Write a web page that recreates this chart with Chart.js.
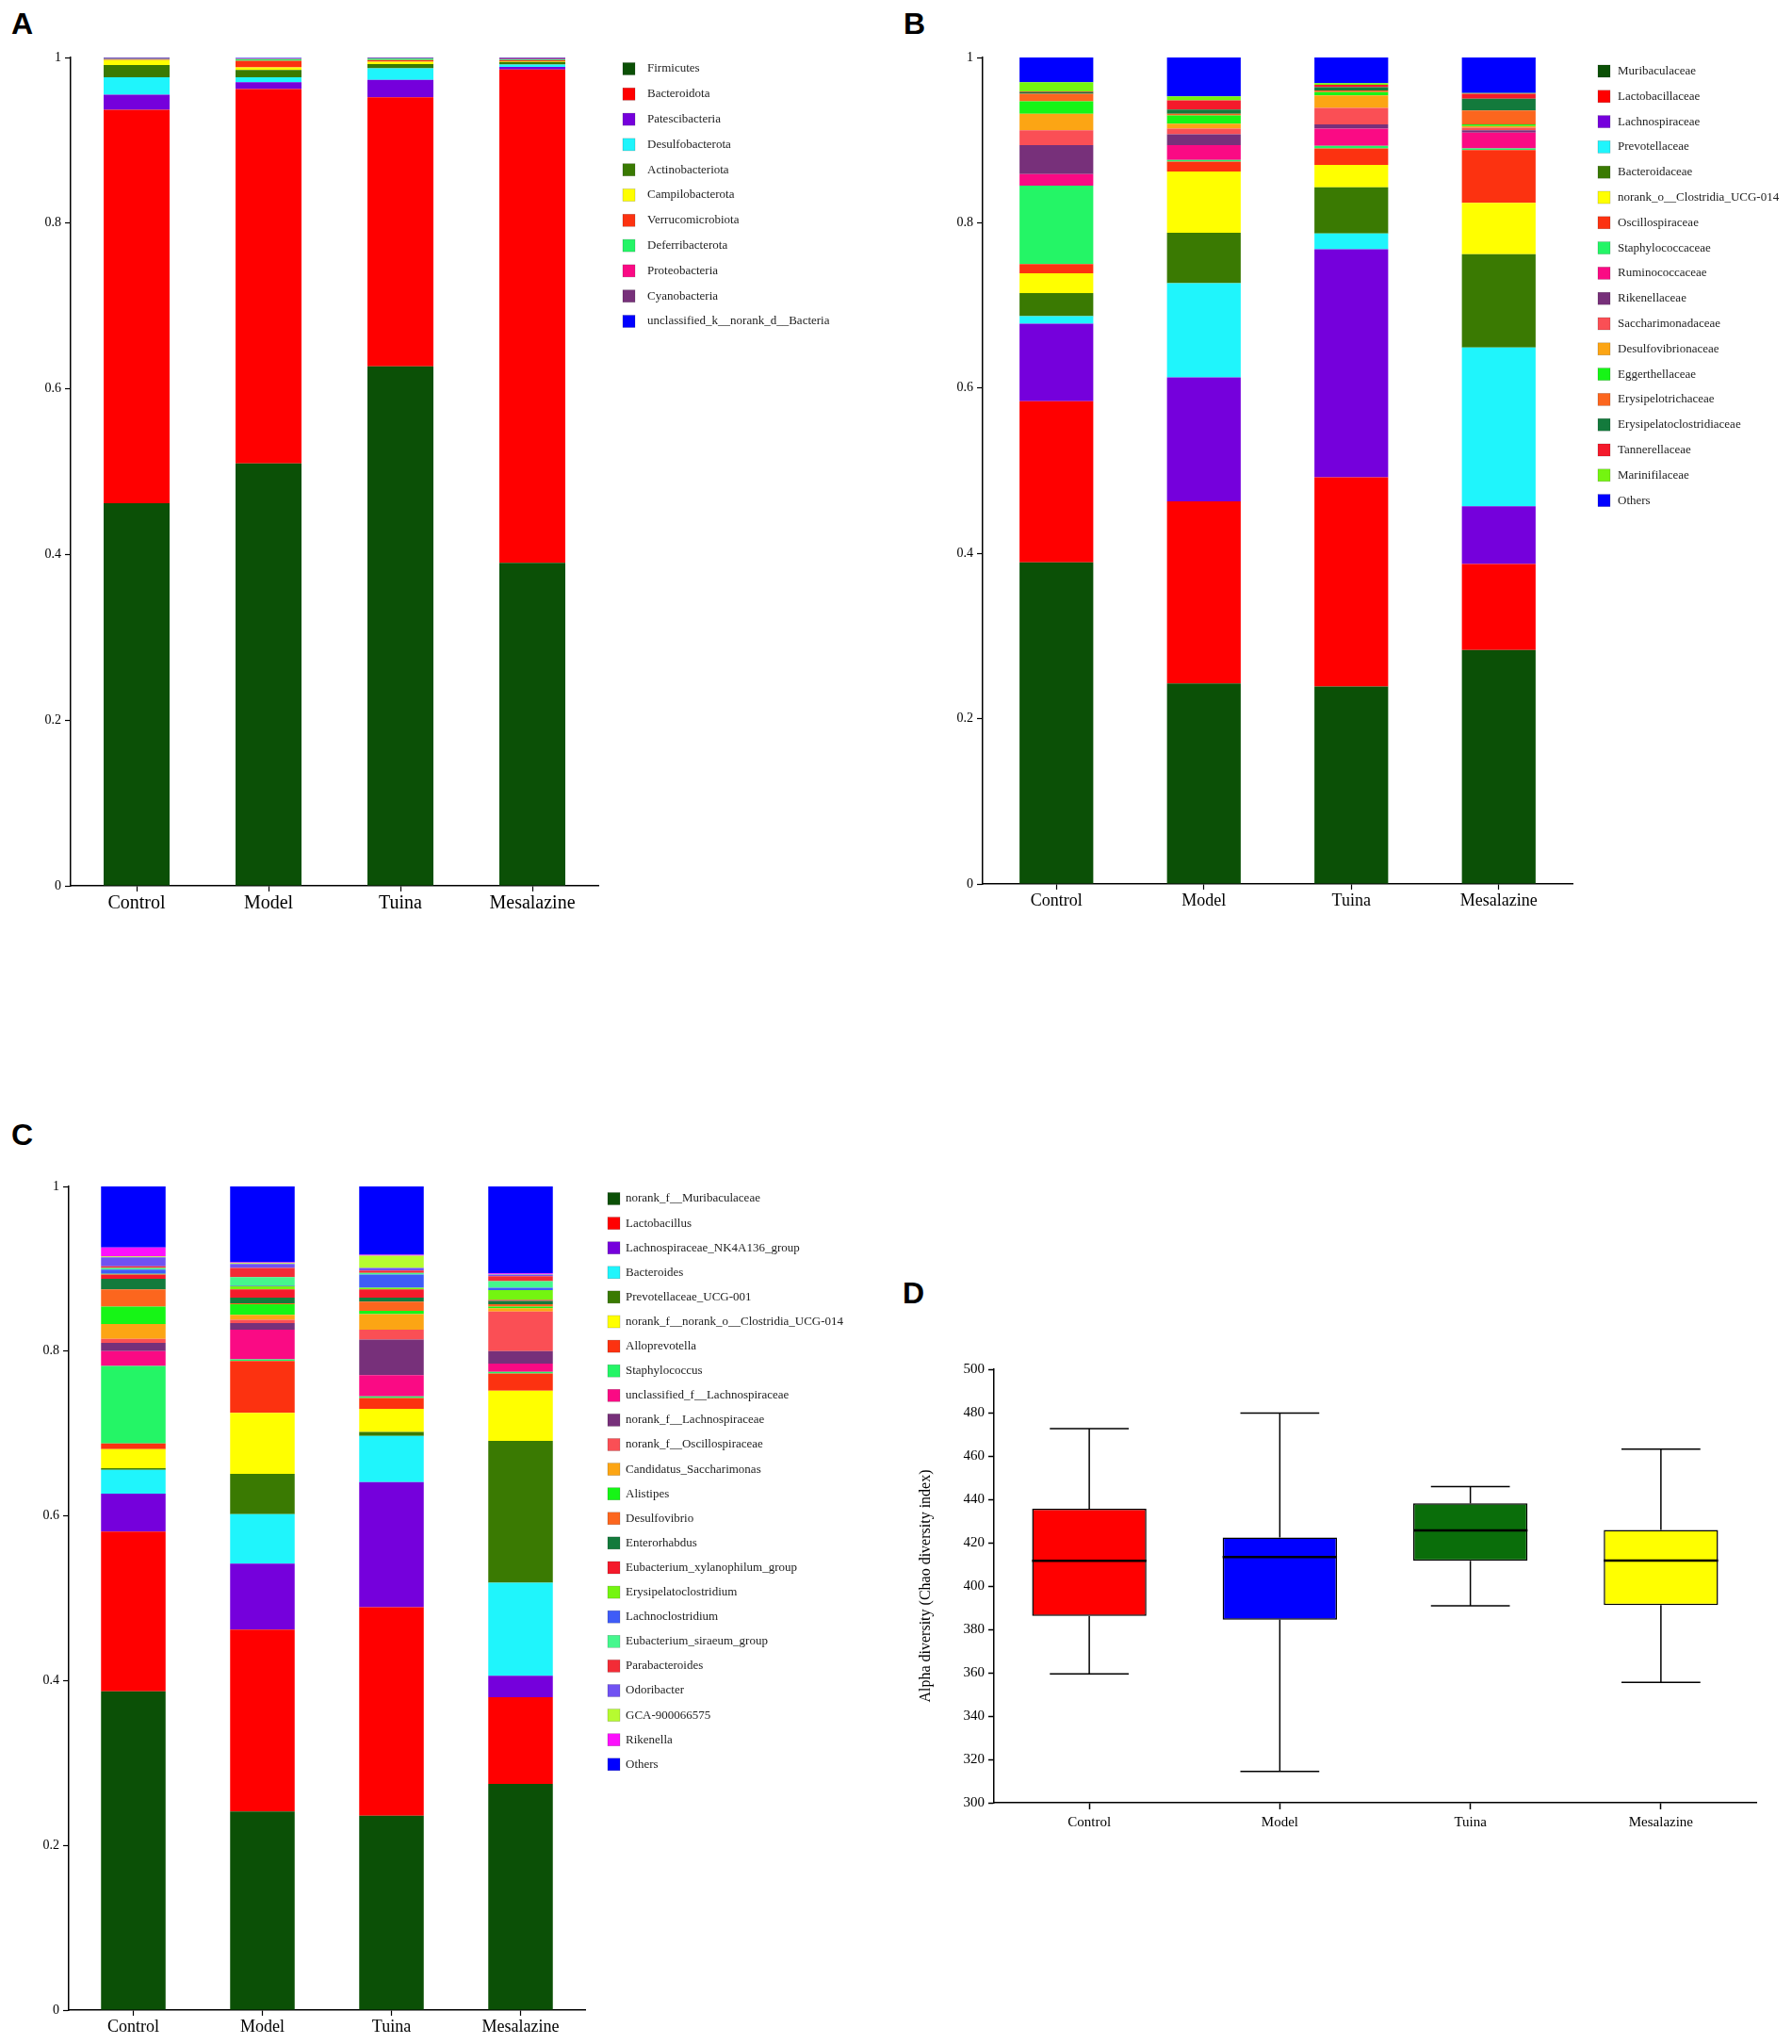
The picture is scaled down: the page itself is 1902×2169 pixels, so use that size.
<!DOCTYPE html>
<html>
<head>
<meta charset="utf-8">
<script src="https://cdn.jsdelivr.net/npm/chart.js@4.4.1/dist/chart.umd.min.js"></script>
<style>
  html, body { margin: 0; padding: 0; background: #fff; }
  body { width: 1902px; height: 2169px; position: relative; overflow: hidden; }
  canvas { position: absolute; }
  .tag { position: absolute; font: bold 32px "Liberation Sans", Arial, sans-serif; line-height: 1; color: #000; }
</style>
</head>
<body>
<div class="tag" style="left:12px;top:9px">A</div>
<div class="tag" style="left:959px;top:9px">B</div>
<div class="tag" style="left:12px;top:1188px">C</div>
<div class="tag" style="left:958px;top:1356px">D</div>

<canvas id="chartA" width="950" height="1000" style="left:0;top:0"></canvas>
<canvas id="chartB" width="952" height="1000" style="left:950px;top:0"></canvas>
<canvas id="chartC" width="950" height="989" style="left:0;top:1180px"></canvas>
<canvas id="chartD" width="962" height="620" style="left:940px;top:1330px"></canvas>

<script>
// groups shared by all four panels
const groups = ['Control', 'Model', 'Tuina', 'Mesalazine'];
const fracTicks = ['0', '0.2', '0.4', '0.6', '0.8', '1'];
const chaoTicks = ['300', '320', '340', '360', '380', '400', '420', '440', '460', '480', '500'];

// colour order used by the community plots
const taxonColors = [
  '#0b5006', '#ff0000', '#7500dc', '#1ff5fc', '#3a7a02', '#ffff00', '#fc3210', '#24f566',
  '#fa0a84', '#77307a', '#fa4f55', '#fca514', '#16f516', '#fc661e', '#137a3c', '#f41a2b',
  '#74f510', '#3f5cf7', '#45f78d', '#f22c36', '#7052f2', '#b6fb30', '#fc10fc'
];
const othersColor = '#0000ff';

// A: phylum level (rows = taxa, columns = groups)
const phylumNames = [
  'Firmicutes', 'Bacteroidota', 'Patescibacteria', 'Desulfobacterota', 'Actinobacteriota',
  'Campilobacterota', 'Verrucomicrobiota', 'Deferribacterota', 'Proteobacteria', 'Cyanobacteria',
  'unclassified_k__norank_d__Bacteria'
];
const phylumValues = [
  [0.462, 0.510, 0.627, 0.390],
  [0.475, 0.452, 0.325, 0.5955],
  [0.018, 0.008, 0.021, 0.003],
  [0.021, 0.006, 0.014, 0.003],
  [0.015, 0.009, 0.005, 0.003],
  [0.006, 0.003, 0.003, 0.001],
  [0.0005, 0.008, 0.002, 0.001],
  [0.0005, 0.002, 0.0015, 0.001],
  [0.0003, 0.0005, 0.0005, 0.0005],
  [0.001, 0.0005, 0.0005, 0.0015],
  [0.0007, 0.0005, 0.0005, 0.0005]
];

// B: family level
const familyNames = [
  'Muribaculaceae', 'Lactobacillaceae', 'Lachnospiraceae', 'Prevotellaceae', 'Bacteroidaceae',
  'norank_o__Clostridia_UCG-014', 'Oscillospiraceae', 'Staphylococcaceae', 'Ruminococcaceae',
  'Rikenellaceae', 'Saccharimonadaceae', 'Desulfovibrionaceae', 'Eggerthellaceae',
  'Erysipelotrichaceae', 'Erysipelatoclostridiaceae', 'Tannerellaceae', 'Marinifilaceae', 'Others'
];
const familyValues = [
  [0.389, 0.2425, 0.239, 0.283],
  [0.195, 0.2205, 0.253, 0.104],
  [0.094, 0.150, 0.276, 0.070],
  [0.009, 0.114, 0.019, 0.192],
  [0.028, 0.061, 0.056, 0.113],
  [0.024, 0.074, 0.027, 0.062],
  [0.011, 0.012, 0.020, 0.064],
  [0.095, 0.002, 0.003, 0.002],
  [0.014, 0.018, 0.021, 0.019],
  [0.035, 0.013, 0.005, 0.003],
  [0.018, 0.007, 0.020, 0.003],
  [0.020, 0.006, 0.015, 0.002],
  [0.015, 0.010, 0.004, 0.002],
  [0.009, 0.002, 0.002, 0.017],
  [0.002, 0.005, 0.004, 0.014],
  [0.001, 0.011, 0.003, 0.006],
  [0.011, 0.005, 0.002, 0.001],
  [0.030, 0.047, 0.031, 0.043]
];

// C: genus level
const genusNames = [
  'norank_f__Muribaculaceae', 'Lactobacillus', 'Lachnospiraceae_NK4A136_group', 'Bacteroides',
  'Prevotellaceae_UCG-001', 'norank_f__norank_o__Clostridia_UCG-014', 'Alloprevotella',
  'Staphylococcus', 'unclassified_f__Lachnospiraceae', 'norank_f__Lachnospiraceae',
  'norank_f__Oscillospiraceae', 'Candidatus_Saccharimonas', 'Alistipes', 'Desulfovibrio',
  'Enterorhabdus', 'Eubacterium_xylanophilum_group', 'Erysipelatoclostridium', 'Lachnoclostridium',
  'Eubacterium_siraeum_group', 'Parabacteroides', 'Odoribacter', 'GCA-900066575', 'Rikenella', 'Others'
];
const genusValues = [
  [0.387, 0.241, 0.236, 0.2745],
  [0.194, 0.221, 0.253, 0.1055],
  [0.046, 0.080, 0.152, 0.026],
  [0.029, 0.060, 0.056, 0.113],
  [0.002, 0.049, 0.005, 0.172],
  [0.023, 0.074, 0.028, 0.061],
  [0.007, 0.063, 0.013, 0.021],
  [0.094, 0.002, 0.002, 0.002],
  [0.018, 0.036, 0.026, 0.010],
  [0.010, 0.008, 0.043, 0.015],
  [0.005, 0.004, 0.012, 0.048],
  [0.018, 0.006, 0.019, 0.004],
  [0.021, 0.013, 0.004, 0.002],
  [0.021, 0.001, 0.011, 0.003],
  [0.013, 0.007, 0.005, 0.004],
  [0.005, 0.010, 0.010, 0.001],
  [0.001, 0.004, 0.002, 0.012],
  [0.005, 0.001, 0.016, 0.003],
  [0.002, 0.010, 0.002, 0.008],
  [0.002, 0.011, 0.003, 0.006],
  [0.011, 0.005, 0.003, 0.002],
  [0.001, 0.001, 0.015, 0.0005],
  [0.011, 0.001, 0.001, 0.001],
  [0.074, 0.092, 0.083, 0.1055]
];

// D: Chao index box plot
const chaoMax = [472.6, 479.8, 445.9, 463.1];
const chaoQ3 = [435.7, 422.4, 438.1, 425.9];
const chaoMedian = [411.6, 413.4, 425.7, 411.7];
const chaoQ1 = [386.2, 384.5, 411.6, 391.2];
const chaoMin = [359.5, 314.5, 390.9, 355.5];
const boxColors = ['#ff0000', '#0000ff', '#0a6e0a', '#ffff00'];

const serif = '"Liberation Serif", "Times New Roman", serif';

// legend column drawn beside the plot, one row per dataset
const sideLegend = {
  id: 'sideLegend',
  afterDraw(chart, args, opts) {
    if (!opts || !opts.show) return;
    const { ctx, chartArea } = chart;
    ctx.save();
    ctx.font = '13px ' + serif;
    ctx.textBaseline = 'middle';
    chart.data.datasets.forEach((ds, i) => {
      const x = chartArea.right + opts.left;
      const y = chartArea.top + opts.top + i * opts.step;
      ctx.fillStyle = ds.backgroundColor;
      ctx.fillRect(x, y - 6.5, 13, 13);
      ctx.strokeStyle = 'rgba(0,0,0,0.25)';
      ctx.lineWidth = 0.6;
      ctx.strokeRect(x, y - 6.5, 13, 13);
      ctx.fillStyle = '#222';
      ctx.fillText(ds.label, x + opts.gap, y);
    });
    ctx.restore();
  }
};

function axisGrid() {
  return { display: true, drawOnChartArea: false, offset: false, color: '#000', tickLength: 6, tickWidth: 1.2 };
}

function stackedChart(id, names, rows, pad, legendOpts, labelSize, xHeight) {
  const datasets = names.map((name, i) => ({
    label: name,
    data: rows[i],
    backgroundColor: name === 'Others' || name.startsWith('unclassified_k') ? othersColor : taxonColors[i],
    borderWidth: 0,
    barPercentage: 0.5,
    categoryPercentage: 1
  }));
  return new Chart(document.getElementById(id), {
    type: 'bar',
    data: { labels: groups, datasets },
    options: {
      responsive: false,
      animation: false,
      devicePixelRatio: 1,
      layout: { padding: pad },
      plugins: { legend: { display: false }, tooltip: { enabled: false }, sideLegend: legendOpts },
      scales: {
        x: {
          stacked: true,
          grid: axisGrid(),
          border: { color: '#000', width: 1.5 },
          ticks: { color: '#000', font: { family: serif, size: labelSize }, padding: 1, maxRotation: 0 },
          afterFit: s => { s.height = xHeight; }
        },
        y: {
          stacked: true,
          min: 0,
          max: 1,
          grid: axisGrid(),
          border: { color: '#000', width: 1.5 },
          ticks: { stepSize: 0.2, color: '#000', font: { family: serif, size: 14 }, padding: 4,
                   callback: (v, i) => fracTicks[i] },
          afterFit: s => { s.width = 40; }
        }
      }
    },
    plugins: [sideLegend]
  });
}

stackedChart('chartA', phylumNames, phylumValues,
  { left: 35, top: 61, right: 315, bottom: 20 },
  { show: true, left: 26, top: 12, step: 26.8, gap: 26 }, 20, 40);

stackedChart('chartB', familyNames, familyValues,
  { left: 53, top: 61, right: 233, bottom: 22 },
  { show: true, left: 27, top: 14.5, step: 26.8, gap: 21 }, 18, 40);

stackedChart('chartC', genusNames, genusValues,
  { left: 33, top: 79, right: 329, bottom: 2 },
  { show: true, left: 24, top: 13, step: 26.1, gap: 19 }, 18, 34);

// whiskers, caps and medians for the box plot
const boxWhiskers = {
  id: 'boxWhiskers',
  afterDatasetsDraw(chart) {
    const { ctx } = chart;
    const ys = chart.scales.y;
    const meta = chart.getDatasetMeta(0);
    const line = (x1, y1, x2, y2) => { ctx.beginPath(); ctx.moveTo(x1, y1); ctx.lineTo(x2, y2); ctx.stroke(); };
    ctx.save();
    ctx.strokeStyle = '#000';
    groups.forEach((g, i) => {
      const bar = meta.data[i];
      const cx = bar.x;
      const half = bar.width / 2;
      const cap = half * 0.69;
      const yMax = ys.getPixelForValue(chaoMax[i]);
      const yMin = ys.getPixelForValue(chaoMin[i]);
      ctx.lineWidth = 1.5;
      line(cx, ys.getPixelForValue(chaoQ3[i]), cx, yMax);
      line(cx - cap, yMax, cx + cap, yMax);
      line(cx, ys.getPixelForValue(chaoQ1[i]), cx, yMin);
      line(cx - cap, yMin, cx + cap, yMin);
      ctx.lineWidth = 2.5;
      const yMed = ys.getPixelForValue(chaoMedian[i]);
      line(cx - half, yMed, cx + half, yMed);
    });
    ctx.restore();
  }
};

new Chart(document.getElementById('chartD'), {
  type: 'bar',
  data: {
    labels: groups,
    datasets: [{
      label: 'Chao',
      data: groups.map((g, i) => [chaoQ1[i], chaoQ3[i]]),
      backgroundColor: boxColors,
      borderColor: '#000',
      borderWidth: 1.5,
      borderSkipped: false,
      barPercentage: 0.6,
      categoryPercentage: 1
    }]
  },
  options: {
    responsive: false,
    animation: false,
    devicePixelRatio: 1,
    layout: { padding: { left: 29, top: 123, right: 38, bottom: 7 } },
    plugins: { legend: { display: false }, tooltip: { enabled: false } },
    scales: {
      x: {
        grid: { display: true, drawOnChartArea: false, offset: false, color: '#000', tickLength: 7, tickWidth: 1.5 },
        border: { color: '#000', width: 1.5 },
        ticks: { color: '#000', font: { family: serif, size: 15 }, padding: 5, maxRotation: 0 },
        afterFit: s => { s.height = 30; }
      },
      y: {
        min: 300,
        max: 500,
        grid: { display: true, drawOnChartArea: false, color: '#000', tickLength: 6, tickWidth: 1.5 },
        border: { color: '#000', width: 1.5 },
        ticks: { stepSize: 20, color: '#000', font: { family: serif, size: 15 }, padding: 4,
                 callback: (v, i) => chaoTicks[i] },
        title: { display: true, text: 'Alpha diversity (Chao diversity index)', color: '#000',
                 font: { family: serif, size: 16 }, padding: { top: 4, bottom: 0 } },
        afterFit: s => { s.width = 86; }
      }
    }
  },
  plugins: [boxWhiskers]
});
</script>
</body>
</html>
